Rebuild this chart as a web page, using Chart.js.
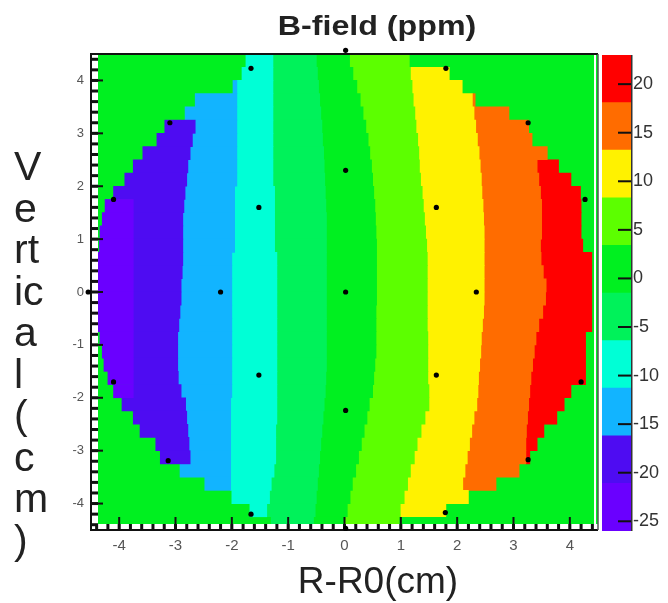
<!DOCTYPE html>
<html>
<head>
<meta charset="utf-8">
<script src="https://cdn.jsdelivr.net/npm/chart.js@4.4.1/dist/chart.umd.min.js"></script>
<style>
  html, body { margin: 0; padding: 0; background: #fff; }
  #wrap { position: relative; width: 668px; height: 603px; }
  #wrap canvas { position: absolute; left: 0; top: 0; }
</style>
</head>
<body>
<div id="wrap">
  <canvas id="field" width="668" height="603"></canvas>
  <canvas id="palette" width="668" height="603"></canvas>
</div>
<script>
const FONT = "'Liberation Sans', Arial, Helvetica, sans-serif";

// contour levels of the palette (ppm) and the colour of each band
const levels = [-26, -21.1, -16.2, -11.3, -6.4, -1.5, 3.4, 8.3, 13.2, 18.1, 23];
const bandColors = ['#6a00ff', '#4e0cf2', '#12b4ff', '#00ffd6', '#00f25a',
                    '#00f020', '#5cff00', '#fff200', '#ff6c00', '#ff0000'];
const outsideColor = '#00f020';

const xTicks = [-4, -3, -2, -1, 0, 1, 2, 3, 4];
const yTicks = [-4, -3, -2, -1, 0, 1, 2, 3, 4];
const paletteTicks = [-25, -20, -15, -10, -5, 0, 5, 10, 15, 20];

// rows of the map (vertical, cm)
const rowY = [4.375, 4.125, 3.875, 3.625, 3.375, 3.125, 2.875, 2.625, 2.375, 2.125,
              1.875, 1.625, 1.375, 1.125, 0.875, 0.625, 0.375, 0.125, -0.125, -0.375,
              -0.625, -0.875, -1.125, -1.375, -1.625, -1.875, -2.125, -2.375, -2.625, -2.875,
              -3.125, -3.375, -3.625, -3.875, -4.125, -4.375];

// left / right edge of the measured region in each row (R-R0, cm)
const edgeLeft = [-1.75, -1.82, -1.98, -2.65, -2.83, -3.19, -3.33, -3.58, -3.75, -3.90,
                  -4.10, -4.25, -4.30, -4.34, -4.35, -4.48, -4.48, -4.48, -4.48, -4.48,
                  -4.46, -4.34, -4.30, -4.27, -4.20, -4.10, -3.95, -3.75, -3.63, -3.35,
                  -3.27, -2.92, -2.48, -2.00, -1.68, -1.30];
const edgeRight = [1.15, 1.86, 2.09, 2.32, 2.92, 3.27, 3.33, 3.60, 3.80, 4.02,
                   4.19, 4.20, 4.20, 4.20, 4.23, 4.39, 4.39, 4.39, 4.39, 4.39,
                   4.39, 4.28, 4.28, 4.28, 4.28, 4.02, 3.90, 3.77, 3.54, 3.42,
                   3.29, 3.10, 2.69, 2.20, 1.80, 0.97];

// where each contour level crosses a row (cm); -4.5 / 4.5 = not reached
const cut01 = [-4.5, -4.5, -4.5, -4.5, -4.5, -4.5, -4.5, -4.5, -4.5, -4.5,
               -4.5, -3.75, -3.75, -3.75, -3.75, -3.75, -3.75, -3.75, -3.75, -3.75,
               -3.75, -3.75, -3.75, -3.75, -3.75, -3.75, -4.5, -4.5, -4.5, -4.5,
               -4.5, -4.5, -4.5, -4.5, -4.5, -4.5];
const cut12 = [-4.5, -4.5, -4.5, -4.5, -4.5, -2.65, -2.70, -2.74, -2.78, -2.80,
               -2.83, -2.85, -2.87, -2.87, -2.87, -2.87, -2.88, -2.90, -2.90, -2.92,
               -2.94, -2.96, -2.96, -2.96, -2.95, -2.90, -2.82, -2.80, -2.78, -2.76,
               -2.74, -4.5, -4.5, -4.5, -4.5, -4.5];
const cut23 = [-1.91, -1.91, -1.91, -1.91, -1.91, -1.91, -1.91, -1.91, -1.91, -1.91,
               -1.95, -1.95, -1.95, -1.95, -1.95, -2.00, -2.00, -2.00, -2.00, -2.00,
               -2.00, -2.00, -2.00, -2.00, -2.00, -2.00, -2.02, -2.02, -2.02, -2.02,
               -2.02, -2.02, -2.02, -2.02, -2.02, -2.02];
const cut34 = [-1.27, -1.27, -1.27, -1.27, -1.27, -1.27, -1.27, -1.27, -1.27, -1.27,
               -1.24, -1.24, -1.24, -1.24, -1.24, -1.20, -1.20, -1.20, -1.20, -1.20,
               -1.20, -1.20, -1.20, -1.20, -1.20, -1.20, -1.20, -1.20, -1.22, -1.22,
               -1.22, -1.25, -1.30, -1.33, -1.38, -1.30];
const cut45 = [-0.50, -0.48, -0.46, -0.44, -0.42, -0.40, -0.39, -0.37, -0.36, -0.35,
               -0.34, -0.33, -0.32, -0.32, -0.32, -0.32, -0.32, -0.32, -0.32, -0.32,
               -0.32, -0.32, -0.32, -0.32, -0.33, -0.34, -0.36, -0.38, -0.40, -0.42,
               -0.44, -0.46, -0.48, -0.50, -0.52, -0.55];
const cut56 = [0.09, 0.15, 0.22, 0.28, 0.33, 0.38, 0.42, 0.45, 0.48, 0.50,
               0.52, 0.54, 0.55, 0.56, 0.57, 0.57, 0.57, 0.57, 0.57, 0.56,
               0.56, 0.56, 0.56, 0.54, 0.52, 0.50, 0.44, 0.40, 0.35, 0.30,
               0.25, 0.20, 0.14, 0.10, 0.05, 0.00];
const cut67 = [1.15, 1.17, 1.20, 1.22, 1.25, 1.27, 1.30, 1.32, 1.33, 1.35,
               1.38, 1.40, 1.42, 1.44, 1.46, 1.47, 1.47, 1.47, 1.47, 1.47,
               1.47, 1.48, 1.48, 1.48, 1.48, 1.50, 1.50, 1.43, 1.36, 1.29,
               1.24, 1.17, 1.12, 1.06, 0.99, 0.97];
const cut78 = [2.27, 2.27, 2.27, 2.27, 2.30, 2.33, 2.36, 2.39, 2.41, 2.43,
               2.44, 2.46, 2.47, 2.48, 2.48, 2.48, 2.48, 2.48, 2.48, 2.47,
               2.45, 2.43, 2.42, 2.40, 2.38, 2.37, 2.35, 2.30, 2.26, 2.22,
               2.18, 2.14, 2.10, 2.20, 2.00, 2.00];
const cut89 = [4.5, 4.5, 4.5, 4.5, 4.5, 4.5, 4.5, 4.5, 3.42, 3.45,
               3.48, 3.50, 3.50, 3.50, 3.48, 3.49, 3.53, 3.58, 3.57, 3.52,
               3.45, 3.40, 3.37, 3.34, 3.31, 3.29, 3.27, 3.25, 3.23, 3.22,
               3.22, 4.5, 4.5, 4.5, 4.5, 4.5];

// probe positions (cm)
const probeX = [0.02, 0.02, 1.63, 2.34, 1.63, 0.02, -1.52, -2.20, -1.52,
                0.02, 1.80, 3.26, 4.27, 4.60, 4.20, 3.26, 1.79, 0.02,
                -1.66, -3.13, -4.10, -4.55, -4.10, -3.10, -1.66];
const probeY = [0.00, 2.30, 1.60, 0.00, -1.57, -2.24, -1.57, 0.00, 1.60,
                4.57, 4.23, 3.20, 1.75, 0.00, -1.70, -3.17, -4.17, -4.47,
                -4.20, -3.19, -1.70, 0.00, 1.75, 3.20, 4.23];

const cuts = [cut01, cut12, cut23, cut34, cut45, cut56, cut67, cut78, cut89];

function bandRows(k) {
  const out = [];
  rowY.forEach((y, i) => {
    const lo = Math.max(k === 0 ? -4.5 : cuts[k - 1][i], edgeLeft[i]);
    const hi = Math.min(k === 9 ? 4.5 : cuts[k][i], edgeRight[i]);
    if (hi > lo) out.push({ y: y, x: [lo, hi] });
  });
  return out;
}

const datasets = [{
  type: 'scatter',
  data: probeX.map((x, i) => ({ x: x, y: probeY[i] })),
  pointRadius: 2.6,
  pointBackgroundColor: '#000',
  pointBorderWidth: 0,
  clip: false
}];
bandColors.forEach((c, k) => {
  datasets.push({
    type: 'bar',
    indexAxis: 'y',
    data: bandRows(k),
    backgroundColor: c,
    borderWidth: 0,
    grouped: false,
    barPercentage: 1,
    categoryPercentage: 1
  });
});

// green background, inner tick marks and frame
const framePlugin = {
  id: 'frame',
  beforeDatasetsDraw(chart) {
    const { ctx, chartArea: a } = chart;
    ctx.save();
    ctx.fillStyle = outsideColor;
    ctx.fillRect(a.left, a.top, a.right - a.left, a.bottom - a.top);
    ctx.restore();
  },
  beforeDatasetDraw(chart, args) {
    if (args.index !== 0) return;
    const { ctx, chartArea: a, scales } = chart;
    ctx.save();
    ctx.fillStyle = '#fff';
    ctx.fillRect(a.left, a.top, 7, a.bottom - a.top);
    ctx.fillRect(a.left, a.bottom - 6, a.right - a.left, 6);
    ctx.fillRect(a.right - 4, a.top, 2, a.bottom - a.top);
    ctx.fillStyle = '#111';
    for (let v = -4.4; v < 4.5; v += 0.2) {
      const py = scales.y.getPixelForValue(v);
      ctx.fillRect(a.left, py - 1.5, 7, 3);
      const px = scales.x.getPixelForValue(v);
      ctx.fillRect(px - 1.5, a.bottom - 6, 3, 6);
    }
    yTicks.forEach(v => {
      const py = scales.y.getPixelForValue(v);
      ctx.fillRect(a.left, py - 1, 12, 2);
    });
    xTicks.forEach(v => {
      const px = scales.x.getPixelForValue(v);
      ctx.fillRect(px - 1, a.bottom - 13, 2, 13);
    });
    ctx.strokeStyle = '#111';
    ctx.lineWidth = 2;
    ctx.beginPath();
    ctx.moveTo(a.right, a.top);
    ctx.lineTo(a.left, a.top);
    ctx.lineTo(a.left, a.bottom);
    ctx.lineTo(a.right, a.bottom);
    ctx.stroke();
    ctx.strokeStyle = '#555';
    ctx.lineWidth = 1.5;
    ctx.beginPath();
    ctx.moveTo(a.right, a.top);
    ctx.lineTo(a.right, a.bottom);
    ctx.stroke();
    ctx.restore();
  },
  afterDraw(chart) {
    const ctx = chart.ctx;
    ctx.save();
    ctx.fillStyle = '#222';
    ctx.textAlign = 'center';
    ctx.textBaseline = 'alphabetic';
    ctx.save();
    ctx.translate(377, 35);
    ctx.scale(1.15, 1);
    ctx.font = 'bold 28px ' + FONT;
    ctx.fillText('B-field (ppm)', 0, 0);
    ctx.restore();
    ctx.font = '37px ' + FONT;
    ctx.fillText('R-R0(cm)', 378, 593);
    ctx.textAlign = 'left';
    ctx.font = '41px ' + FONT;
    ['V', 'e', 'rt', 'ic', 'a', 'l', '(', 'c', 'm', ')'].forEach((s, i) => {
      ctx.fillText(s, 14, 180 + i * 41.5);
    });
    ctx.restore();
  }
};

new Chart(document.getElementById('field'), {
  type: 'bar',
  data: { datasets: datasets },
  options: {
    responsive: false,
    animation: false,
    layout: { padding: { left: 0, top: 54, right: 70, bottom: 0 } },
    plugins: { legend: { display: false }, tooltip: { enabled: false } },
    scales: {
      x: {
        type: 'linear', min: -4.5, max: 4.5, offset: false,
        grid: { display: false, drawTicks: false, offset: false }, border: { display: false },
        afterBuildTicks: s => { s.ticks = xTicks.map(v => ({ value: v })); },
        afterFit: s => { s.height = 73; },
        ticks: { autoSkip: false, maxRotation: 0, padding: 7, color: '#555', font: { family: FONT, size: 15 } }
      },
      y: {
        type: 'linear', min: -4.5, max: 4.5, offset: false,
        grid: { display: false, drawTicks: false, offset: false }, border: { display: false },
        afterBuildTicks: s => { s.ticks = yTicks.map(v => ({ value: v })); },
        afterFit: s => { s.width = 91; },
        ticks: { autoSkip: false, padding: 7, color: '#555', font: { family: FONT, size: 13 } }
      }
    }
  },
  plugins: [framePlugin]
});

// colour palette on the right
const paletteTickPlugin = {
  id: 'paletteTicks',
  afterDatasetsDraw(chart) {
    const { ctx, chartArea: a, scales } = chart;
    ctx.save();
    ctx.fillStyle = '#111';
    paletteTicks.forEach(v => {
      const py = scales.y.getPixelForValue(v);
      ctx.fillRect(a.right - 14, py - 1, 14, 2);
    });
    ctx.fillStyle = '#333';
    ctx.fillRect(a.right - 1, a.top, 1.5, a.bottom - a.top);
    ctx.restore();
  }
};

new Chart(document.getElementById('palette'), {
  type: 'bar',
  data: {
    labels: [''],
    datasets: bandColors.map((c, k) => ({
      data: [[levels[k], levels[k + 1]]],
      backgroundColor: c,
      borderWidth: 0,
      grouped: false,
      barPercentage: 1,
      categoryPercentage: 1
    }))
  },
  options: {
    responsive: false,
    animation: false,
    layout: { padding: { left: 602, top: 55, right: 0, bottom: 72 } },
    plugins: { legend: { display: false }, tooltip: { enabled: false } },
    scales: {
      x: { display: false },
      y: {
        position: 'right', min: -26, max: 23,
        grid: { display: false, drawTicks: false }, border: { display: false },
        afterBuildTicks: s => { s.ticks = paletteTicks.map(v => ({ value: v })); },
        afterFit: s => { s.width = 36; },
        ticks: { padding: 1, color: '#333', font: { family: FONT, size: 18 } }
      }
    }
  },
  plugins: [paletteTickPlugin]
});
</script>
</body>
</html>
